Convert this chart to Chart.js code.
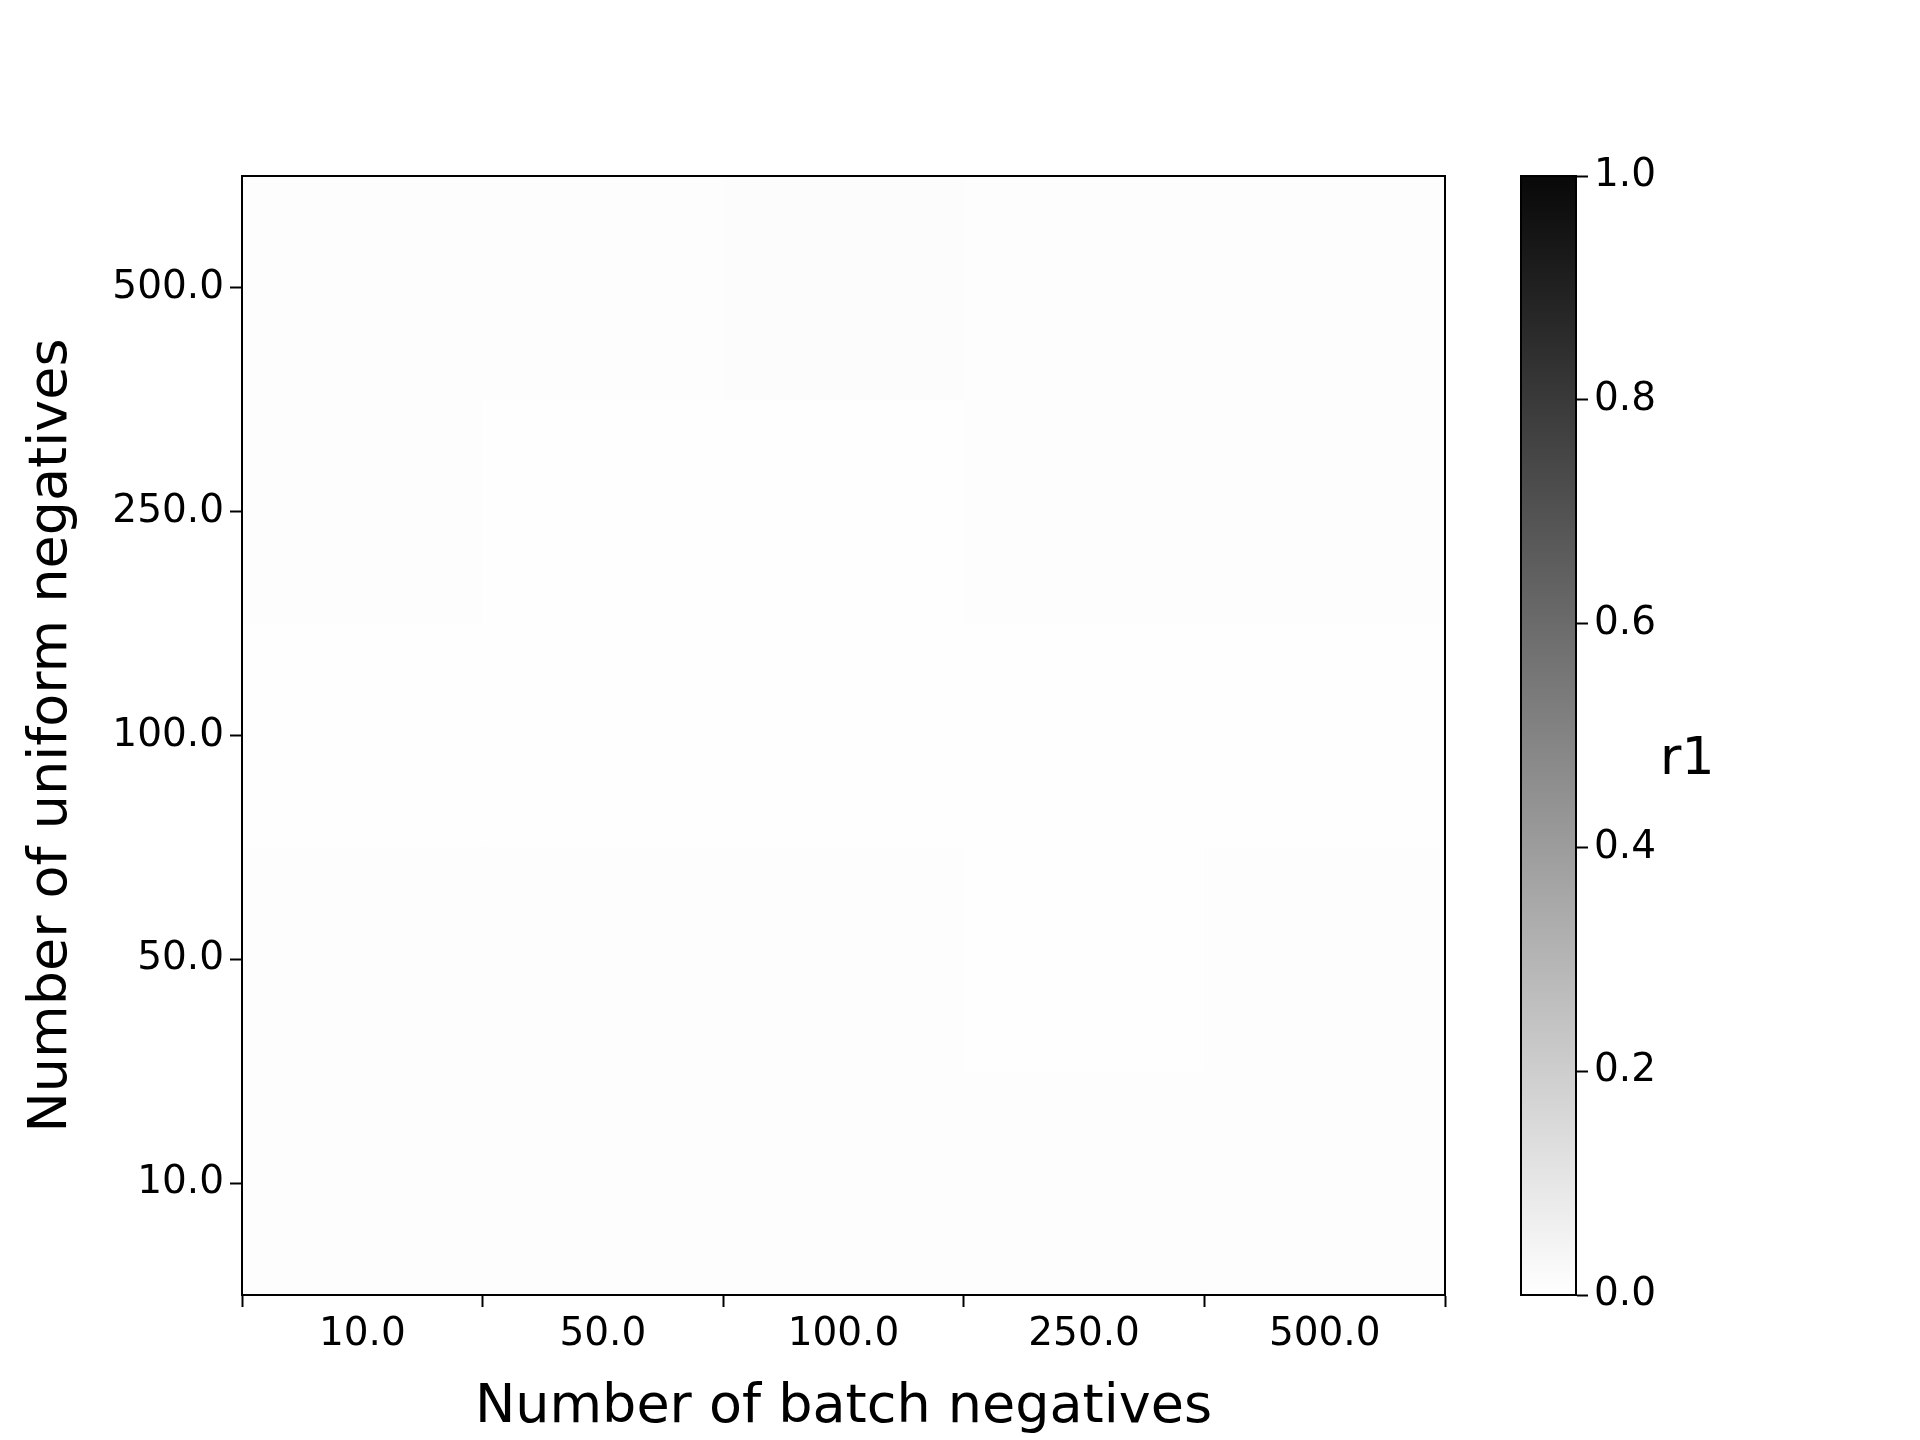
<!DOCTYPE html>
<html>
<head>
<meta charset="utf-8">
<script src="https://cdn.jsdelivr.net/npm/chart.js@4/dist/chart.umd.min.js"></script>
<style>
  body { margin: 0; background: #fff; width: 1920px; height: 1440px; position: relative; overflow: hidden; }
  #main { position: absolute; left: 0; top: 0; }
  #bar { position: absolute; left: 1444px; top: 0; }
  #r1 { position: absolute; left: 1660px; top: 726px; font: 52px "DejaVu Sans"; color: #000; }
</style>
</head>
<body>
<canvas id="main" width="1480" height="1440"></canvas>
<canvas id="bar" width="260" height="1440"></canvas>
<div id="r1">r1</div>
<script>
// ====== DADOS ======
const batchLabels = ["10.0", "50.0", "100.0", "250.0", "500.0"];
const uniformLabels = ["10.0", "50.0", "100.0", "250.0", "500.0"]; // de baixo pra cima
// r1 por linha (uniform), colunas = batch
const r1Rows = [
  [0.008, 0.008, 0.008, 0.008, 0.008], // 10
  [0.006, 0.006, 0.009, 0.002, 0.009], // 50
  [0.005, 0.005, 0.005, 0.005, 0.005], // 100
  [0.009, 0.002, 0.002, 0.009, 0.006], // 250
  [0.006, 0.008, 0.012, 0.006, 0.006], // 500
];
const colorbarTicks = [0, 0.2, 0.4, 0.6, 0.8, 1.0];

const FONT = "DejaVu Sans";
const grey = (v) => {
  const c = Math.round(255 * (1 - v));
  return `rgb(${c},${c},${c})`;
};

const tickGrid = { display: true, drawOnChartArea: false, drawTicks: true, tickLength: 12, tickColor: "#000", tickWidth: 2 };

const frame = {
  id: "frame",
  afterDraw(chart) {
    const { ctx, chartArea: a } = chart;
    ctx.save();
    ctx.strokeStyle = "#000";
    ctx.lineWidth = 2;
    ctx.strokeRect(a.left, a.top, a.right - a.left, a.bottom - a.top);
    ctx.restore();
  },
};

// ====== HEATMAP ======
const datasets = r1Rows.map((row, i) => ({
  data: row.map(() => [i - 0.5, i + 0.5]),
  backgroundColor: row.map(grey),
  borderWidth: 0,
  grouped: false,
  barPercentage: 1,
  categoryPercentage: 1,
}));

new Chart(document.getElementById("main"), {
  type: "bar",
  data: { labels: batchLabels, datasets },
  options: {
    responsive: false,
    animation: false,
    layout: { padding: { top: 176, right: 35, left: 0, bottom: 0 } },
    plugins: { legend: { display: false }, tooltip: { enabled: false } },
    scales: {
      x: {
        afterFit: (s) => { s.height = 145; },
        grid: tickGrid,
        border: { color: "#000", width: 2 },
        ticks: { color: "#000", font: { family: FONT, size: 39 }, padding: 4 },
        title: { display: true, text: "Number of batch negatives", color: "#000", font: { family: FONT, size: 54 }, padding: 0 },
      },
      y: {
        type: "linear",
        min: -0.5,
        max: 4.5,
        afterFit: (s) => { s.width = 242; },
        afterBuildTicks: (s) => { s.ticks = uniformLabels.map((_, i) => ({ value: i })); },
        grid: tickGrid,
        border: { color: "#000", width: 2 },
        ticks: { color: "#000", font: { family: FONT, size: 39 }, padding: 6, callback: (v) => uniformLabels[v] },
        title: { display: true, text: "Number of uniform negatives", color: "#000", font: { family: FONT, size: 54 }, padding: { top: 20, bottom: 0 } },
      },
    },
  },
  plugins: [frame],
});

// ====== COLORBAR ======
new Chart(document.getElementById("bar"), {
  type: "bar",
  data: {
    labels: ["r1"],
    datasets: [{
      data: [[0, 1]],
      borderWidth: 0,
      barPercentage: 1,
      categoryPercentage: 1,
      backgroundColor: (c) => {
        const a = c.chart.chartArea;
        if (!a) return "#888";
        const g = c.chart.ctx.createLinearGradient(0, a.bottom, 0, a.top);
        g.addColorStop(0, grey(0));
        g.addColorStop(1, grey(0.97));
        return g;
      },
    }],
  },
  options: {
    responsive: false,
    animation: false,
    layout: { padding: { top: 176, left: 77, bottom: 145, right: 0 } },
    plugins: { legend: { display: false }, tooltip: { enabled: false } },
    scales: {
      x: { display: false },
      y: {
        position: "right",
        min: 0,
        max: 1,
        afterFit: (s) => { s.width = 128; },
        afterBuildTicks: (s) => { s.ticks = colorbarTicks.map((v) => ({ value: v })); },
        grid: tickGrid,
        border: { color: "#000", width: 2 },
        ticks: { color: "#000", font: { family: FONT, size: 39 }, padding: 6, callback: (v) => v.toFixed(1) },
      },
    },
  },
  plugins: [frame],
});
</script>
</body>
</html>
